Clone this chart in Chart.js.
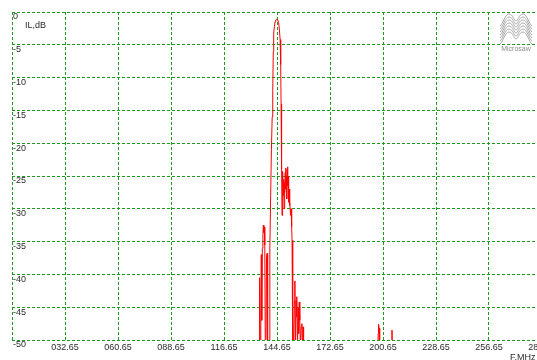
<!DOCTYPE html>
<html>
<head>
<meta charset="utf-8">
<script src="https://cdn.jsdelivr.net/npm/chart.js@4.4.1/dist/chart.umd.min.js"></script>
<style>
  html, body { margin: 0; padding: 0; background: #fff; overflow: hidden; }
  #wrap { position: relative; width: 560px; height: 360px; }
</style>
</head>
<body>
<div id="wrap"><canvas id="c" width="560" height="360"></canvas></div>
<script>
// Insertion loss sweep, frequency in MHz and loss in dB
const freqMHz = [
  4.65, 40, 90, 120, 134.5,
  135.2, 135.45, 135.7, 136.1, 136.35, 136.6, 136.9, 137.2, 137.45, 137.7, 137.95, 138.2, 138.45, 138.8,
  139.1, 139.4, 139.7, 140.2, 140.6,
  140.8, 140.95, 141.3, 141.7, 142.1, 142.4, 142.7, 142.9, 143.3, 143.6, 144.0, 144.5, 145.0, 145.5,
  145.9, 146.3, 146.6, 146.8, 147.0, 147.15, 147.3,
  147.45, 147.6, 147.8, 148.0, 148.2, 148.4, 148.6, 148.8, 149.0, 149.2, 149.4, 149.6, 149.8, 150.0,
  150.2, 150.4, 150.6, 150.8, 151.0, 151.2, 151.5, 151.8, 152.1, 152.4, 152.6,
  152.8, 153.1, 153.4, 153.8, 154.1, 154.4, 154.7, 155.0, 155.2, 155.5, 155.8, 156.1, 156.4, 156.7,
  157.0, 157.4, 157.8, 158.1, 158.4, 158.7, 159.5,
  175, 197.6, 198.1, 198.3, 198.6, 198.9, 204.9, 205.4, 205.8, 220, 250, 284.65
];
const lossDb = [
  -66, -64, -65, -62, -58,
  -56, -40.5, -52, -45, -37, -47, -36, -34, -32.5, -33.6, -32.8, -35.5, -50, -53,
  -37.5, -36.8, -54, -58, -54,
  -48, -36, -28, -21, -16, -12, -6, -3.2, -2.2, -1.5, -1.2, -1.1, -1.2, -1.6,
  -2.6, -4.2, -8, -14, -20, -24, -31,
  -25, -29, -24.3, -28, -25.5, -30, -26, -27.5, -24.5, -23.8, -27, -25, -28.5, -24,
  -23.6, -26.5, -25, -29, -27, -29.5, -28.8, -31, -30, -32.7, -34.8,
  -52, -46, -53, -44, -41, -52, -44, -46.5, -43.4, -51, -45, -49, -44.2, -47,
  -51, -48, -47.5, -53, -48, -56, -62,
  -64, -58, -49, -47.6, -48.2, -56, -57, -48.5, -57, -62, -65, -64
];

// Axis ticks
const xTickValues = [4.65, 32.65, 60.65, 88.65, 116.65, 144.65, 172.65, 200.65, 228.65, 256.65, 284.65];
const xTickLabels = ['', '032.65', '060.65', '088.65', '116.65', '144.65', '172.65', '200.65', '228.65', '256.65', '284.65'];
const yTickValues = [0, -5, -10, -15, -20, -25, -30, -35, -40, -45, -50];
const yTickLabels = ['0', '-5', '-10', '-15', '-20', '-25', '-30', '-35', '-40', '-45', '-50'];

const gridGreen = 'rgb(30,155,30)';
const labelColor = '#2a2a2a';
const tickFont = { family: 'Liberation Sans', size: 9 };

// Axis captions and the Microsaw mark
const decorations = {
  id: 'decorations',
  afterDraw(chart) {
    const ctx = chart.ctx;
    ctx.save();
    ctx.fillStyle = labelColor;
    ctx.font = '9px "Liberation Sans"';
    ctx.textBaseline = 'middle';
    ctx.textAlign = 'left';
    ctx.fillText('IL,dB', 25, 26);
    ctx.textBaseline = 'top';
    ctx.fillText('F,MHz', 510, 353);

    // stacked wave lines of the logo
    ctx.strokeStyle = '#a0a0a0';
    ctx.lineWidth = 0.9;
    for (let i = 0; i < 7; i++) {
      const y0 = 14 + i * 3;
      ctx.beginPath();
      ctx.moveTo(500, y0 + 12);
      ctx.bezierCurveTo(503, y0 + 10, 505, y0, 509, y0);
      ctx.bezierCurveTo(513, y0, 514, y0 + 7, 516, y0 + 7);
      ctx.bezierCurveTo(518, y0 + 7, 519, y0, 523, y0);
      ctx.bezierCurveTo(527, y0, 529, y0 + 10, 532, y0 + 12);
      ctx.stroke();
    }
    ctx.fillStyle = '#8c8c8c';
    ctx.font = '7px "Liberation Sans"';
    ctx.textAlign = 'center';
    ctx.textBaseline = 'middle';
    ctx.fillText('Microsaw', 516, 49);
    ctx.restore();
  }
};

new Chart(document.getElementById('c'), {
  type: 'line',
  data: {
    datasets: [{
      data: freqMHz.map((f, i) => ({ x: f, y: lossDb[i] })),
      borderColor: 'rgb(255,0,0)',
      borderWidth: 1,
      pointRadius: 0,
      tension: 0,
      fill: false
    }]
  },
  options: {
    responsive: false,
    animation: false,
    devicePixelRatio: 1,
    layout: { padding: { left: 12, top: 12, right: 18, bottom: 0 } },
    plugins: { legend: { display: false }, tooltip: { enabled: false } },
    scales: {
      x: {
        type: 'linear',
        min: 4.65,
        max: 284.65,
        afterBuildTicks: s => { s.ticks = xTickValues.map(v => ({ value: v })); },
        afterFit: s => { s.height = 20; },
        ticks: {
          autoSkip: false,
          maxRotation: 0,
          padding: 2,
          font: tickFont,
          color: labelColor,
          callback: (v, i) => xTickLabels[i]
        },
        grid: { color: gridGreen, lineWidth: 1, drawTicks: false },
        border: { display: false, dash: [3, 2] }
      },
      y: {
        type: 'linear',
        min: -50,
        max: 0,
        afterBuildTicks: s => { s.ticks = yTickValues.map(v => ({ value: v })); },
        afterFit: s => { s.width = 0; },
        ticks: {
          autoSkip: false,
          mirror: true,
          padding: 1,
          labelOffset: 5,
          font: tickFont,
          color: labelColor,
          callback: (v, i) => yTickLabels[i]
        },
        grid: { color: gridGreen, lineWidth: 1, drawTicks: false },
        border: { display: false, dash: [3, 2] }
      }
    }
  },
  plugins: [decorations]
});
</script>
</body>
</html>
